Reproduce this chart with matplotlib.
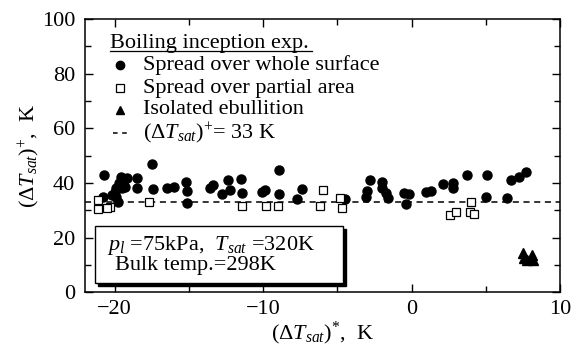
import numpy as np
import matplotlib.pyplot as plt
from matplotlib.patches import Rectangle
from matplotlib.ticker import MultipleLocator

plt.rc('font', family='Liberation Serif', size=16)
plt.rc('mathtext', fontset='custom', rm='Liberation Serif',
       it='Liberation Serif:italic', bf='Liberation Serif:bold')

# spread over whole surface (filled circles)
whole_x = [-20.7, -20.8, -20.2, -19.9, -19.7, -19.6, -19.4, -19.2, -19.9, -19.5,
           -19.3, -18.5, -18.5, -17.5, -17.4, -16.5, -16.0, -15.2, -15.1, -15.1,
           -13.6, -13.4, -12.8, -12.4, -12.2, -11.5, -11.4, -10.1, -9.9, -8.9,
           -8.9, -7.4, -7.7, -4.5, -2.8, -3.0, -3.1, -2.0, -2.0, -1.7,
           -1.6, -0.5, -0.2, -0.4, 1.0, 1.3, 2.1, 2.8, 2.8, 3.7,
           5.1, 5.0, 6.4, 6.7, 7.2, 7.7, -20.0, -19.8]
whole_y = [42.9, 34.8, 35.5, 38.0, 40.0, 42.0, 41.0, 41.8, 34.8, 38.0,
           38.5, 41.8, 38.0, 46.9, 37.7, 38.0, 38.5, 40.3, 37.0, 32.6,
           38.0, 39.2, 35.9, 41.0, 37.4, 41.4, 36.3, 36.6, 37.4, 44.7,
           35.9, 37.7, 34.0, 34.0, 41.0, 37.0, 34.8, 40.3, 38.0, 36.3,
           34.4, 36.3, 36.0, 32.4, 36.6, 37.0, 39.6, 40.0, 38.0, 42.9,
           42.9, 34.8, 34.4, 41.0, 42.1, 43.9, 36.5, 33.0]

# spread over partial area (open squares)
partial_x = [-21.1, -21.1, -20.3, -20.5, -17.7, -11.4, -9.8, -9.0, -6.0, -6.2,
             -4.8, -4.7, 2.6, 3.0, 4.0, 3.9, 4.2]
partial_y = [33.7, 30.4, 31.1, 30.8, 33.0, 31.5, 31.5, 31.5, 37.4, 31.5,
             34.4, 30.8, 28.2, 29.3, 33.0, 29.3, 28.6]

# isolated ebullition (filled triangles)
isolated_x = [7.5, 7.6, 7.8, 8.1, 8.2]
isolated_y = [14.5, 12.5, 11.8, 13.5, 11.8]

dT_plus = 33

fig = plt.figure(figsize=(5.78, 3.52), dpi=100)
ax = fig.add_axes([0.147, 0.170, 0.822, 0.776])

ax.axhline(dT_plus, color='k', lw=1.1, ls=(0, (4, 3)), zorder=1)
ax.plot(whole_x, whole_y, 'o', color='k', ms=6.5, zorder=3)
ax.plot(partial_x, partial_y, 's', mfc='white', mec='k', mew=0.9, ms=5.5, zorder=4)
ax.plot(isolated_x, isolated_y, '^', color='k', ms=7, zorder=3)

ax.set_xlim(-22, 10)
ax.set_ylim(0, 100)
ax.xaxis.set_major_locator(MultipleLocator(10))
ax.xaxis.set_minor_locator(MultipleLocator(5))
ax.yaxis.set_major_locator(MultipleLocator(20))
ax.yaxis.set_minor_locator(MultipleLocator(10))
ax.tick_params(which='both', direction='in', top=True, right=True, width=1)
ax.tick_params(which='major', length=6, pad=6)
ax.tick_params(which='minor', length=4)
ax.tick_params(axis='y', which='major', pad=7)
for s in ax.spines.values():
    s.set_linewidth(1.1)

ax.set_xlabel(r'$(\mathit{\Delta T}_{sat})^{*}$,  K', labelpad=0)
ax.set_ylabel(r'$(\mathit{\Delta T}_{sat})^{+}$,  K', labelpad=0)

# legend drawn by hand
tr = ax.transAxes
ax.text(0.053, 0.912, 'Boiling inception exp.', transform=tr, va='center')
ax.plot([0.053, 0.478], [0.884, 0.884], color='k', lw=0.9, transform=tr)
rows = [0.832, 0.747, 0.667, 0.582]
ax.plot(0.074, rows[0], 'o', color='k', ms=6, transform=tr)
ax.plot(0.074, rows[1], 's', mfc='white', mec='k', mew=0.9, ms=5.5, transform=tr)
ax.plot(0.074, rows[2], '^', color='k', ms=6, transform=tr)
ax.plot([0.058, 0.094], [rows[3], rows[3]], color='k', lw=1.1, ls=(0, (3, 3)), transform=tr)
ax.text(0.122, rows[0], 'Spread over whole surface', transform=tr, va='center')
ax.text(0.122, rows[1], 'Spread over partial area', transform=tr, va='center')
ax.text(0.122, rows[2], 'Isolated ebullition', transform=tr, va='center')
ax.text(0.122, rows[3], r'$(\Delta T_{sat})^{+}$= %d K' % dT_plus, transform=tr, va='center')

# condition box with shadow
ax.add_patch(Rectangle((0.028, 0.022), 0.522, 0.209, transform=tr,
                       facecolor='k', edgecolor='k', zorder=5))
ax.add_patch(Rectangle((0.021, 0.033), 0.522, 0.209, transform=tr,
                       facecolor='white', edgecolor='k', lw=1, zorder=6))
ax.text(0.046, 0.172, r'$p_l$ =75kPa,  $T_{sat}$ =320K', transform=tr,
        va='center', zorder=7)
ax.text(0.063, 0.099, 'Bulk temp.=298K', transform=tr, va='center', zorder=7)

fig.savefig('out.png', dpi=100)
